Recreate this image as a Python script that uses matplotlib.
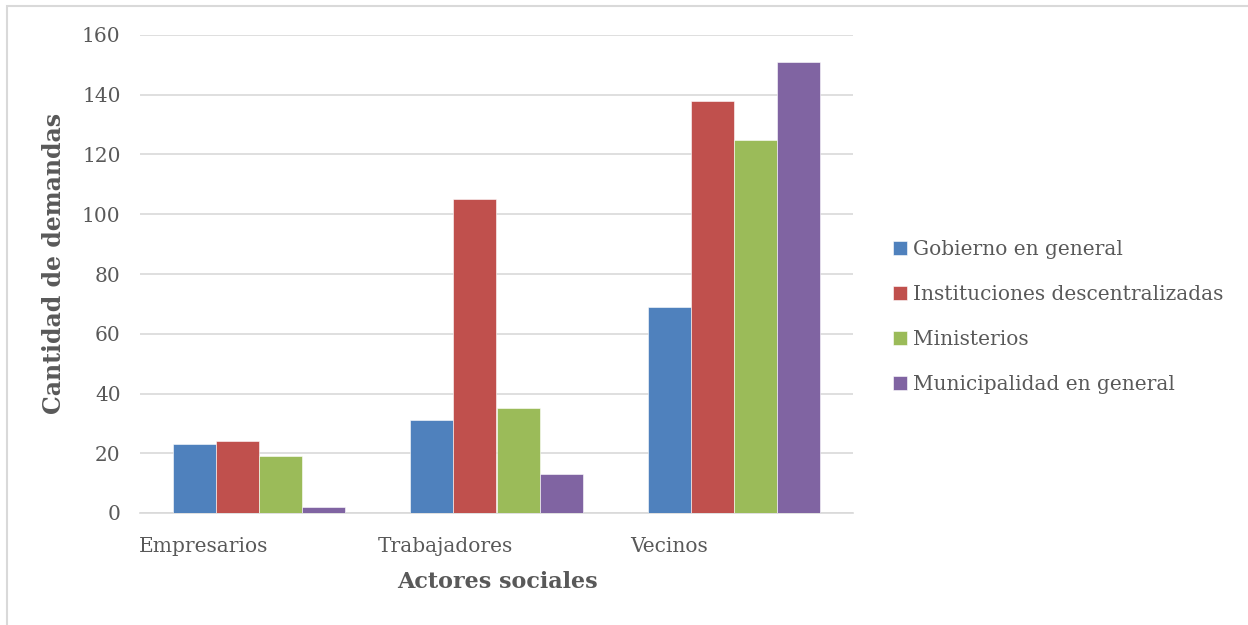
import numpy as np
import matplotlib
matplotlib.use("Agg")
import matplotlib.pyplot as plt
import matplotlib.transforms as mtransforms
from matplotlib.patches import Rectangle

plt.rcParams['font.family'] = ['DejaVu Serif']

categories = ['Empresarios', 'Trabajadores', 'Vecinos']
series = ['Gobierno en general', 'Instituciones descentralizadas',
          'Ministerios', 'Municipalidad en general']
gobierno = [23, 31, 69]
instituciones = [24, 105, 138]
ministerios = [19, 35, 125]
municipalidad = [2, 13, 151]
values = [gobierno, instituciones, ministerios, municipalidad]
colors = ['#4F81BD', '#C0504D', '#9BBB59', '#8064A2']
yticks = [0, 20, 40, 60, 80, 100, 120, 140, 160]

fig = plt.figure(figsize=(12.48, 6.25), dpi=100)
# chart frame (only top/left visible in the original crop)
fig.patches.append(Rectangle((6.5 / 1248, -0.1), 1.2, (625 - 6.5) / 625 + 0.1,
                             transform=fig.transFigure, fill=False,
                             edgecolor='#d9d9d9', linewidth=1.5))

ax = fig.add_axes([140 / 1248, (625 - 513) / 625, (853 - 140) / 1248, 478 / 625])

x = np.arange(len(categories))
w = 0.181
for i, (vals, col, name) in enumerate(zip(values, colors, series)):
    ax.bar(x + (i - 1.5) * w, vals, width=w, color=col, label=name,
           edgecolor='white', linewidth=0.4, zorder=3)

ax.set_xlim(-0.5, 2.5)
ax.set_ylim(0, 160)
ax.set_yticks(yticks)
ax.yaxis.grid(True, color='#d9d9d9', linewidth=1.2, zorder=0)
for s in ['top', 'right', 'left']:
    ax.spines[s].set_visible(False)
ax.spines['bottom'].set_color('#d9d9d9')
ax.spines['bottom'].set_linewidth(1.2)
ax.tick_params(length=0, labelsize=14.5, labelcolor='#595959')
ax.tick_params(axis='y', pad=14)
ax.tick_params(axis='x', pad=17)
ax.set_xticks(x)
ax.set_xticklabels(categories)
# the original's category labels sit left of the bar groups
label_shift_px = [-55, -51, -65]
for lbl, dx in zip(ax.get_xticklabels(), label_shift_px):
    lbl.set_transform(lbl.get_transform() +
                      mtransforms.ScaledTranslation(dx / 100, 0, fig.dpi_scale_trans))

ax.set_ylabel('Cantidad de demandas', fontsize=17, fontweight='bold',
              color='#595959')
ax.yaxis.set_label_coords(-0.104, 0.523)
ax.set_xlabel('Actores sociales', fontsize=16, fontweight='bold',
              color='#595959')
ax.xaxis.set_label_coords(0.501, -0.121)

leg = ax.legend(loc='center left', bbox_to_anchor=(1.031, 0.41), frameon=False,
                fontsize=14.5, labelcolor='#595959', handlelength=0.7,
                handleheight=0.7, handletextpad=0.3, labelspacing=1.3)

fig.savefig('out.png', dpi=100)
